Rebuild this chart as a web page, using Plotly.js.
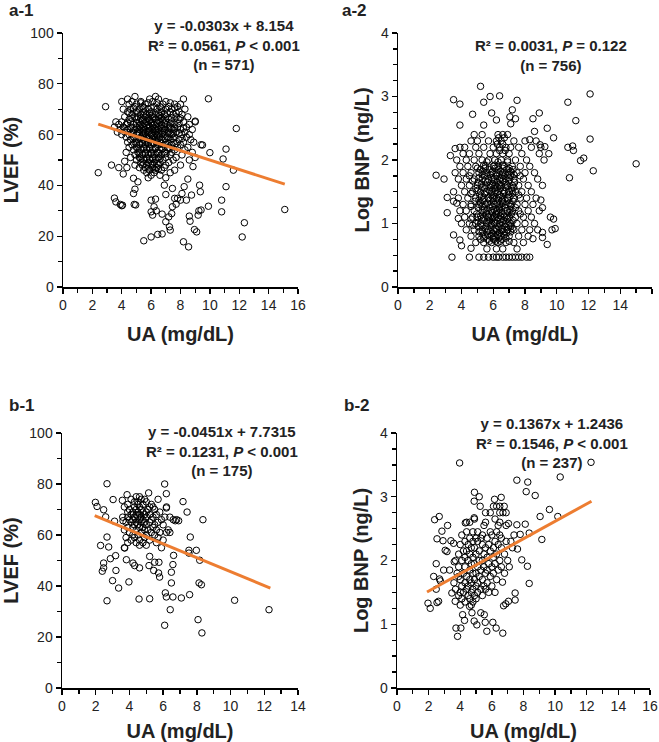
<!DOCTYPE html>
<html>
<head>
<meta charset="utf-8">
<script src="https://cdn.plot.ly/plotly-3.0.1.min.js"></script>
<style>html,body{margin:0;padding:0;background:#fff;}#chart{width:659px;height:742px;}</style>
</head>
<body>
<div id="chart"></div>
<script>
// ---------- DATA ----------
// Panel a-1: UA (mg/dL) vs LVEF (%)
const a1Points = [
  [2.4,45],[2.9,71],[3.3,48],[3.5,35],[3.6,33.5],[3.8,47],[3.9,32.5],[4.0,32],[4.05,32.2],[4.1,44.5],
  [4.2,49.5],[4.35,47],[4.8,36.8],[4.85,32.5],[4.95,32.3],[4.9,38.5],[4.8,42.8],[5.1,41.4],[5.5,18.2],[6.0,19.7],
  [6.0,34.2],[6.0,29.6],[6.1,28.3],[6.2,31.6],[6.3,34.6],[6.45,20.7],[6.75,20.9],[6.35,30],[6.75,28.7],[6.9,40.1],
  [7.0,36.4],[7.0,25.7],[7.2,27.6],[7.3,22.4],[7.25,23.7],[7.4,28.9],[7.45,31.6],[7.45,38.8],[7.6,34.9],[7.7,32.6],
  [7.8,34.9],[8.0,34.2],[8.1,36.8],[8.2,17.8],[8.25,39.5],[8.4,34.2],[8.55,15.8],[8.5,42.5],[8.6,27.9],[8.65,25.9],
  [8.75,36.2],[8.85,47.4],[8.95,22.6],[9.1,21.7],[9.2,28.3],[9.25,30],[9.3,40.1],[9.35,37.5],[9.4,30.3],[9.5,55.9],
  [9.9,31.8],[10.0,52.9],[10.8,29.6],[10.8,34.2],[10.9,50.4],[11.1,54.3],[11.1,39.5],[11.6,46],[11.8,62.4],[12.2,19.7],
  [12.35,25.3],[15.1,30.5],[9.9,74.1],[9.0,65.3],
  [4.9,75],[6.3,75],
  [4.4,74],[5.9,74],[6.5,74],[8.2,74],
  [4.0,73],[4.7,73],[5.3,73],[6.1,73],[7.0,73],
  [4.5,72],[5.0,72],[5.6,72],[6.8,72],[7.6,72],[8.0,72],
  [4.9,71],[5.4,71],[6.2,71],[6.6,71],[7.2,71],[7.8,71],
  [4.1,70],[4.6,70],[5.2,70],[5.8,70],[6.4,70],[7.0,70],[7.4,70],[8.3,70],
  [4.4,69],[5.0,69],[5.5,69],[6.0,69],[6.7,69],[7.3,69],[7.9,69],
  [4.7,68],[5.3,68],[5.7,68],[6.3,68],[6.9,68],[7.5,68],[8.1,68],
  [4.2,67],[4.9,67],[5.1,67],[5.6,67],[6.1,67],[6.5,67],[7.0,67],[7.7,67],[8.5,67],
  [4.5,66],[5.0,66],[5.4,66],[5.9,66],[6.3,66],[6.8,66],[7.2,66],[7.9,66],
  [3.6,65],[4.0,65],[4.6,65],[5.2,65],[5.7,65],[6.0,65],[6.6,65],[7.4,65],[8.2,65],[9.0,65],
  [3.8,64],[4.3,64],[4.8,64],[5.3,64],[5.8,64],[6.2,64],[6.7,64],[7.1,64],[7.6,64],[8.6,64],
  [3.5,63],[4.1,63],[4.6,63],[5.0,63],[5.5,63],[5.9,63],[6.4,63],[6.9,63],[7.3,63],[7.8,63],[8.4,63],
  [3.9,62],[4.4,62],[4.9,62],[5.2,62],[5.6,62],[6.1,62],[6.5,62],[7.0,62],[7.5,62],[8.0,62],[8.8,62],
  [3.7,61],[4.2,61],[4.7,61],[5.1,61],[5.4,61],[5.8,61],[6.3,61],[6.8,61],[7.2,61],[7.7,61],[8.3,61],
  [4.0,60],[4.5,60],[5.0,60],[5.5,60],[6.0,60],[6.4,60],[6.9,60],[7.4,60],[8.1,60],[8.6,60],
  [4.3,59],[4.8,59],[5.3,59],[5.7,59],[6.2,59],[6.6,59],[7.1,59],[7.6,59],[8.4,59],
  [4.6,58],[5.1,58],[5.5,58],[5.9,58],[6.4,58],[6.8,58],[7.3,58],[7.9,58],[8.7,58],
  [4.4,57],[4.9,57],[5.4,57],[5.8,57],[6.1,57],[6.6,57],[7.0,57],[7.5,57],[8.2,57],[8.9,57],
  [4.7,56],[5.2,56],[5.6,56],[6.0,56],[6.5,56],[6.9,56],[7.4,56],[8.0,56],[9.4,56],
  [4.5,55],[5.0,55],[5.5,55],[5.9,55],[6.3,55],[6.7,55],[7.2,55],[7.8,55],[8.5,55],
  [4.8,54],[5.3,54],[5.7,54],[6.1,54],[6.6,54],[7.1,54],[7.6,54],[8.3,54],
  [4.3,53],[5.1,53],[5.6,53],[6.0,53],[6.4,53],[6.9,53],[7.4,53],[8.8,53],
  [4.9,52],[5.4,52],[5.8,52],[6.2,52],[6.7,52],[7.3,52],[8.1,52],
  [4.6,51],[5.2,51],[5.7,51],[6.1,51],[6.5,51],[7.0,51],[7.7,51],[9.0,51],
  [5.0,50],[5.5,50],[5.9,50],[6.3,50],[6.8,50],[7.5,50],[8.6,50],
  [5.3,49],[5.8,49],[6.2,49],[6.6,49],[7.2,49],
  [4.9,48],[5.4,48],[5.7,48],[6.0,48],[6.5,48],[7.0,48],[8.0,48],
  [5.2,47],[5.6,47],[6.1,47],[6.4,47],[6.9,47],
  [5.5,46],[5.9,46],[6.3,46],[6.7,46],[7.6,46],
  [5.7,45],[6.2,45],[7.3,45],
  [6.0,44],[6.6,44],[5.8,43],[7.0,43],
  [5.3,72.5],[5.8,72.5],[6.4,72.5],[7.3,72.5],
  [4.8,70.5],[5.5,70.5],[6.0,70.5],[6.7,70.5],[7.6,70.5],
  [4.5,68.5],[5.1,68.5],[5.9,68.5],[6.5,68.5],[7.1,68.5],[7.7,68.5],
  [4.7,66.5],[5.3,66.5],[5.8,66.5],[6.2,66.5],[6.7,66.5],[7.4,66.5],[8.0,66.5],
  [4.4,64.5],[5.0,64.5],[5.5,64.5],[6.0,64.5],[6.4,64.5],[6.9,64.5],[7.3,64.5],[7.9,64.5],
  [4.2,62.5],[4.7,62.5],[5.3,62.5],[5.8,62.5],[6.2,62.5],[6.7,62.5],[7.2,62.5],[7.6,62.5],[8.2,62.5],
  [4.8,60.5],[5.2,60.5],[5.6,60.5],[6.1,60.5],[6.6,60.5],[7.1,60.5],[7.5,60.5],[7.9,60.5],
  [4.9,58.5],[5.3,58.5],[5.7,58.5],[6.1,58.5],[6.5,58.5],[7.0,58.5],[7.5,58.5],[8.1,58.5],
  [5.0,56.5],[5.4,56.5],[5.8,56.5],[6.2,56.5],[6.7,56.5],[7.2,56.5],[7.7,56.5],
  [5.1,54.5],[5.5,54.5],[5.9,54.5],[6.3,54.5],[6.8,54.5],[7.3,54.5],
  [5.2,52.5],[5.6,52.5],[6.0,52.5],[6.5,52.5],[7.0,52.5],
  [5.3,50.5],[5.7,50.5],[6.1,50.5],[6.6,50.5],
  [5.5,48.5],[6.1,48.5],[6.4,48.5],
  [5.8,46.5],[6.2,46.5],[6.5,46.5],
  [5.5,67.5],[6.0,67.5],[6.6,67.5],
  [5.4,65.5],[5.9,65.5],[6.5,65.5],[7.0,65.5],
  [5.2,63.5],[5.7,63.5],[6.1,63.5],[6.6,63.5],
  [5.5,61.5],[5.9,61.5],[6.4,61.5],[6.9,61.5],
  [5.4,59.5],[5.9,59.5],[6.4,59.5],
  [5.6,57.5],[6.3,57.5]
];
const a1TrendX = [2.4, 15.1];
const a1TrendY = [64.1, 40.5];

// Panel a-2: UA (mg/dL) vs Log BNP (ng/L)
const a2Points = [
  [2.4,1.76],[2.9,1.70],[3.1,1.41],[3.1,1.17],[3.3,2.07],[3.5,2.95],[3.9,2.88],[3.9,2.55],[3.6,2.18],[3.4,0.47],
  [3.5,0.82],[3.5,1.35],[3.7,1.32],[3.8,1.08],[3.9,0.74],[4.0,0.65],[4.7,2.72],[4.6,0.61],[5.2,3.16],[5.4,2.91],
  [5.8,3.0],[6.4,3.01],[5.9,2.74],[5.4,2.55],[6.2,2.63],[7.05,2.68],[7.2,2.79],[7.5,2.94],[7.4,2.65],[7.1,2.57],
  [8.5,2.65],[8.9,2.74],[9.4,2.5],[9.8,2.35],[8.6,2.45],[8.95,2.24],[8.3,2.32],[9.25,2.21],[9.5,2.1],[9.6,1.1],
  [9.8,1.07],[9.7,0.9],[9.9,0.92],[10.7,2.91],[11.2,2.62],[12.1,3.04],[10.7,2.2],[11.0,2.22],[11.05,2.15],[11.5,1.99],
  [11.7,2.03],[12.1,2.33],[12.3,1.83],[10.8,1.72],[15.0,1.94],[9.0,1.37],[9.1,1.25],[9.1,0.78],[9.4,0.67],[9.1,0.86],
  [8.5,0.76],
  [4.5,0.47],[5.1,0.47],[5.4,0.47],[5.7,0.47],[6.0,0.47],[6.2,0.47],[6.35,0.47],[6.6,0.47],[6.8,0.47],[7.0,0.47],
  [7.2,0.47],[7.4,0.47],[7.6,0.47],[7.8,0.47],[8.1,0.47],[8.3,0.47],
  [4.8,2.4],[5.3,2.4],[6.3,2.4],[6.6,2.4],[6.9,2.4],
  [4.6,2.3],[5.0,2.3],[5.7,2.3],[6.2,2.3],[6.5,2.3],[7.3,2.3],[8.0,2.3],[8.7,2.3],
  [3.9,2.2],[4.2,2.2],[4.9,2.2],[5.4,2.2],[6.0,2.2],[6.4,2.2],[6.8,2.2],[7.1,2.2],[7.6,2.2],[8.4,2.2],[9.0,2.2],
  [4.1,2.1],[4.5,2.1],[5.1,2.1],[5.8,2.1],[6.2,2.1],[6.6,2.1],[7.0,2.1],[7.8,2.1],[8.9,2.1],
  [3.7,2.0],[4.3,2.0],[4.8,2.0],[5.3,2.0],[5.7,2.0],[6.1,2.0],[6.5,2.0],[6.9,2.0],[7.4,2.0],[8.1,2.0],[9.2,2.0],
  [3.9,1.9],[4.4,1.9],[4.9,1.9],[5.5,1.9],[6.0,1.9],[6.3,1.9],[6.7,1.9],[7.2,1.9],[7.7,1.9],[8.3,1.9],
  [3.6,1.8],[4.1,1.8],[4.6,1.8],[5.1,1.8],[5.6,1.8],[5.9,1.8],[6.2,1.8],[6.6,1.8],[7.0,1.8],[7.5,1.8],[8.0,1.8],[8.6,1.8],
  [3.8,1.7],[4.3,1.7],[4.8,1.7],[5.3,1.7],[5.7,1.7],[6.0,1.7],[6.4,1.7],[6.8,1.7],[7.3,1.7],[7.9,1.7],[8.8,1.7],
  [4.0,1.6],[4.5,1.6],[5.0,1.6],[5.5,1.6],[5.8,1.6],[6.1,1.6],[6.5,1.6],[6.9,1.6],[7.2,1.6],[7.6,1.6],[8.2,1.6],[9.1,1.6],
  [3.5,1.5],[4.2,1.5],[4.7,1.5],[5.2,1.5],[5.6,1.5],[5.9,1.5],[6.3,1.5],[6.7,1.5],[7.0,1.5],[7.4,1.5],[7.8,1.5],[8.4,1.5],
  [3.8,1.4],[4.4,1.4],[4.9,1.4],[5.4,1.4],[5.7,1.4],[6.0,1.4],[6.2,1.4],[6.6,1.4],[6.9,1.4],[7.3,1.4],[7.7,1.4],[8.1,1.4],[8.7,1.4],
  [4.1,1.3],[4.6,1.3],[5.1,1.3],[5.5,1.3],[5.8,1.3],[6.1,1.3],[6.4,1.3],[6.8,1.3],[7.1,1.3],[7.5,1.3],[8.0,1.3],[8.5,1.3],
  [3.9,1.2],[4.3,1.2],[4.8,1.2],[5.3,1.2],[5.6,1.2],[5.9,1.2],[6.2,1.2],[6.5,1.2],[6.9,1.2],[7.2,1.2],[7.6,1.2],[8.2,1.2],[8.9,1.2],
  [4.2,1.1],[4.7,1.1],[5.0,1.1],[5.4,1.1],[5.7,1.1],[6.0,1.1],[6.3,1.1],[6.7,1.1],[7.0,1.1],[7.4,1.1],[7.9,1.1],[8.4,1.1],
  [4.0,1.0],[4.5,1.0],[4.9,1.0],[5.2,1.0],[5.6,1.0],[5.9,1.0],[6.1,1.0],[6.4,1.0],[6.8,1.0],[7.1,1.0],[7.5,1.0],[8.0,1.0],[8.6,1.0],
  [4.3,0.9],[4.8,0.9],[5.3,0.9],[5.7,0.9],[6.0,0.9],[6.2,0.9],[6.6,0.9],[6.9,0.9],[7.3,0.9],[7.8,0.9],[8.3,0.9],[8.8,0.9],
  [4.6,0.8],[5.1,0.8],[5.5,0.8],[5.8,0.8],[6.1,0.8],[6.5,0.8],[7.0,0.8],[7.6,0.8],[8.2,0.8],
  [4.9,0.7],[5.4,0.7],[5.9,0.7],[6.3,0.7],[6.8,0.7],[7.3,0.7],[7.9,0.7],
  [5.6,0.6],[6.2,0.6],[6.6,0.6],[7.5,0.6],
  [5.2,1.85],[5.75,1.85],[6.35,1.85],[6.85,1.85],[7.25,1.85],
  [4.5,1.75],[5.45,1.75],[6.2,1.75],[6.6,1.75],[7.1,1.75],[7.7,1.75],
  [5.05,1.65],[5.65,1.65],[6.25,1.65],[6.75,1.65],[7.35,1.65],
  [4.9,1.55],[5.45,1.55],[6.05,1.55],[6.45,1.55],[7.15,1.55],
  [5.15,1.45],[5.85,1.45],[6.4,1.45],[6.95,1.45],[7.6,1.45],
  [4.85,1.35],[5.35,1.35],[6.0,1.35],[6.55,1.35],[7.25,1.35],
  [5.05,1.25],[5.75,1.25],[6.35,1.25],[6.75,1.25],[7.4,1.25],
  [4.95,1.15],[5.55,1.15],[6.15,1.15],[6.55,1.15],[7.15,1.15],[7.7,1.15],
  [5.35,1.05],[5.8,1.05],[6.25,1.05],[6.65,1.05],[7.25,1.05],
  [5.05,0.95],[5.55,0.95],[6.35,0.95],[6.75,0.95],[7.1,0.95],
  [5.3,0.85],[5.95,0.85],[6.4,0.85],[6.85,0.85],
  [5.2,0.75],[5.65,0.75],[6.05,0.75],[6.55,0.75],
  [5.4,1.92],[6.1,1.92],[6.6,1.92],
  [5.35,1.82],[5.95,1.82],[6.45,1.82],[7.1,1.82],
  [5.1,1.72],[5.9,1.72],[6.5,1.72],[7.0,1.72],
  [5.25,1.62],[5.95,1.62],[6.35,1.62],[6.8,1.62],
  [5.0,1.52],[5.75,1.52],[6.15,1.52],[6.6,1.52],[7.2,1.52],
  [5.25,1.42],[5.95,1.42],[6.45,1.42],[7.05,1.42],
  [5.2,1.32],[5.65,1.32],[6.25,1.32],[6.6,1.32],[7.0,1.32],
  [5.45,1.22],[6.05,1.22],[6.4,1.22],[7.05,1.22],
  [5.2,1.12],[5.85,1.12],[6.45,1.12],[6.85,1.12],
  [5.05,1.02],[5.75,1.02],[6.05,1.02],[6.55,1.02],[7.0,1.02],
  [5.5,0.92],[6.15,0.92],[6.5,0.92],[7.2,0.92],
  [5.65,0.82],[6.25,0.82],[6.7,0.82],
  [5.75,0.72],[6.15,0.72],[6.45,0.72],[7.0,0.72],
  [6.35,2.35],[6.7,2.35],[6.25,2.25],[6.6,2.25],[6.4,2.15],[6.75,2.15],
  [5.6,1.97],[6.3,1.97],[6.9,1.97],
  [5.0,1.87],[5.5,1.87],[6.1,1.87],[6.6,1.87],[7.0,1.87],
  [5.3,1.77],[5.8,1.77],[6.4,1.77],[6.9,1.77],[7.3,1.77],
  [4.7,1.67],[5.5,1.67],[6.1,1.67],[6.6,1.67],[7.0,1.67],
  [5.3,1.57],[5.8,1.57],[6.25,1.57],[6.75,1.57],[7.3,1.57],
  [4.6,1.47],[5.45,1.47],[6.1,1.47],[6.65,1.47],[7.2,1.47],
  [5.1,1.37],[5.8,1.37],[6.35,1.37],[6.9,1.37],
  [4.6,1.27],[5.3,1.27],[5.95,1.27],[6.55,1.27],[7.1,1.27],
  [5.4,1.17],[5.95,1.17],[6.35,1.17],[7.0,1.17],
  [4.6,1.07],[5.25,1.07],[5.95,1.07],[6.45,1.07],[6.9,1.07],
  [4.7,0.97],[5.3,0.97],[5.85,0.97],[6.55,0.97],[7.0,0.97],
  [5.1,0.87],[5.6,0.87],[6.15,0.87],[6.65,0.87],[7.1,0.87],
  [5.4,0.77],[6.0,0.77],[6.35,0.77],[6.8,0.77]
];

// Panel b-1: UA (mg/dL) vs LVEF (%)
const b1Points = [
  [1.98,72.8],[2.08,71.2],[2.67,80.1],[2.47,69.9],[2.59,67.1],[2.29,55.9],[2.47,49.0],[2.39,45.8],[2.47,47.1],[2.67,59.2],
  [2.77,55.3],[2.67,34.2],[2.87,50.7],[3.03,73.9],[3.0,42.1],[3.12,65.4],[3.18,51.9],[3.2,46.1],[3.36,39.2],[3.58,73.6],
  [3.62,65.6],[3.72,54.9],[3.82,50.3],[3.86,75.8],[3.97,41.6],[4.21,49.0],[4.31,48.0],[4.6,47.1],[4.57,34.9],[5.14,76.5],
  [5.2,35.0],[5.2,51.6],[5.5,49.3],[5.16,48.0],[5.44,46.1],[5.73,45.1],[5.79,43.5],[5.75,49.3],[6.09,80.0],[6.19,76.2],
  [6.19,70.6],[6.13,37.3],[6.19,35.7],[6.09,24.6],[6.42,30.7],[6.49,41.2],[6.49,45.4],[6.58,48.4],[6.62,52.0],[6.58,35.7],
  [6.72,65.6],[6.92,65.6],[7.08,35.3],[7.18,73.1],[7.42,69.0],[7.57,36.6],[7.61,59.2],[7.53,54.0],[7.53,52.9],[7.97,54.0],
  [8.07,26.8],[8.17,50.1],[8.13,41.2],[8.27,40.5],[8.3,21.6],[8.36,66.0],[10.24,34.4],[12.28,30.7],
  [4.4,75],[4.6,75],
  [4.1,74],[4.7,74],[4.9,74],[5.7,74],
  [4.3,73],[4.5,73],[5.0,73],
  [3.9,72],[4.5,72],[4.8,72],[5.3,72],
  [3.7,71],[4.3,71],[4.6,71],[5.2,71],[5.4,71],[6.2,71],
  [4.0,70],[4.4,70],[4.7,70],[5.1,70],[5.5,70],
  [3.9,69],[4.2,69],[4.5,69],[4.8,69],[5.0,69],[5.8,69],
  [4.1,68],[4.4,68],[4.6,68],[4.9,68],[5.2,68],[5.6,68],
  [3.6,67],[3.9,67],[4.3,67],[4.5,67],[4.7,67],[5.0,67],[5.4,67],[6.1,67],[6.4,67],
  [4.0,66],[4.2,66],[4.6,66],[4.8,66],[5.3,66],[5.9,66],[6.6,66],[6.8,66],
  [3.8,65],[4.1,65],[4.4,65],[4.7,65],[4.9,65],[5.2,65],[5.7,65],
  [4.3,64],[4.5,64],[5.0,64],[5.5,64],[6.0,64],
  [3.9,63],[4.2,63],[4.6,63],[4.8,63],[5.4,63],
  [3.7,62],[4.4,62],[4.9,62],[5.1,62],[5.6,62],[6.3,62],
  [4.0,61],[4.7,61],[5.3,61],[5.8,61],[6.2,61],[6.4,61],
  [4.2,60],[4.5,60],[5.0,60],[5.5,60],
  [3.8,59],[4.3,59],[4.9,59],[5.7,59],
  [4.1,58],[4.6,58],[5.2,58],[6.0,58],
  [3.9,57],[4.4,57],[4.8,57],[5.6,57],
  [4.6,56],[5.0,56],
  [3.7,55],[5.9,55]
];
const b1TrendX = [1.94, 12.36];
const b1TrendY = [67.6, 39.2];

// Panel b-2: UA (mg/dL) vs Log BNP (ng/L)
const b2Points = [
  [1.96,1.33],[2.1,1.25],[2.38,2.64],[2.67,2.69],[2.32,1.75],[2.48,1.95],[2.53,2.34],[2.48,1.55],[2.53,1.34],[2.63,1.36],
  [2.69,1.71],[2.74,1.68],[2.84,2.46],[2.91,2.31],[2.95,1.85],[3.05,2.16],[3.16,2.14],[3.2,2.55],[3.33,1.85],[3.41,2.31],
  [3.47,1.49],[3.58,2.27],[3.62,1.98],[3.68,1.36],[3.73,0.94],[3.83,0.81],[3.96,3.53],[3.89,1.75],[4.04,0.94],[4.15,1.15],
  [4.27,1.06],[4.32,2.59],[4.59,1.28],[4.74,1.18],[4.88,2.93],[4.9,3.07],[4.88,2.67],[4.88,1.05],[5.05,0.99],[5.2,3.0],
  [5.26,2.85],[5.3,1.18],[5.52,1.15],[5.58,1.03],[5.68,0.89],[6.06,1.03],[6.27,0.94],[6.69,0.86],[6.17,2.96],[6.59,2.99],
  [6.78,2.85],[6.9,2.75],[7.05,2.58],[6.74,1.29],[6.88,1.32],[7.05,1.36],[6.67,1.66],[7.47,1.49],[7.47,1.38],[7.58,3.26],
  [7.58,2.56],[7.62,2.18],[7.79,2.41],[7.89,2.01],[8.11,2.57],[8.17,3.08],[8.27,3.23],[8.25,1.91],[8.36,1.64],[8.36,2.43],
  [8.74,3.02],[9.05,2.69],[9.16,2.33],[9.64,2.8],[10.17,2.69],[10.32,3.31],[12.27,3.54],
  [6.1,2.85],[6.3,2.85],[6.5,2.85],
  [5.6,2.75],[5.9,2.75],[6.5,2.75],[6.7,2.75],
  [4.9,2.65],[6.2,2.65],
  [4.4,2.6],[4.6,2.6],[5.6,2.6],[6.5,2.6],
  [5.5,2.55],[6.4,2.55],[6.9,2.55],
  [4.4,2.45],[4.8,2.45],[5.1,2.45],[5.9,2.45],[6.3,2.45],
  [4.1,2.4],[5.4,2.4],[6.0,2.4],[6.5,2.4],[7.4,2.4],
  [4.6,2.35],[5.0,2.35],[5.3,2.35],[5.7,2.35],[6.6,2.35],
  [4.3,2.3],[4.8,2.3],[5.1,2.3],[6.2,2.3],[6.9,2.3],[7.2,2.3],
  [4.0,2.25],[4.5,2.25],[5.4,2.25],[5.8,2.25],[6.4,2.25],
  [4.7,2.2],[4.9,2.2],[5.6,2.2],[6.1,2.2],[6.6,2.2],[7.3,2.2],
  [4.2,2.15],[4.4,2.15],[5.2,2.15],[5.9,2.15],
  [3.9,2.1],[4.6,2.1],[5.0,2.1],[5.5,2.1],[6.3,2.1],[6.8,2.1],
  [4.3,2.05],[4.8,2.05],[5.7,2.05],[6.1,2.05],
  [3.7,2.0],[4.1,2.0],[4.5,2.0],[5.2,2.0],[5.4,2.0],[6.5,2.0],[7.0,2.0],
  [4.7,1.95],[4.9,1.95],[5.8,1.95],[6.2,1.95],
  [3.9,1.9],[4.3,1.9],[5.1,1.9],[5.5,1.9],[6.0,1.9],[6.6,1.9],[7.1,1.9],
  [4.6,1.85],[5.3,1.85],[5.7,1.85],[6.4,1.85],
  [3.8,1.8],[4.2,1.8],[4.8,1.8],[5.0,1.8],[5.6,1.8],[6.1,1.8],[6.8,1.8],
  [4.4,1.75],[5.2,1.75],[5.9,1.75],
  [4.0,1.7],[4.6,1.7],[4.9,1.7],[5.4,1.7],[6.3,1.7],
  [3.6,1.65],[4.3,1.65],[4.7,1.65],[5.1,1.65],[5.7,1.65],
  [4.1,1.6],[4.5,1.6],[5.0,1.6],[5.5,1.6],[6.0,1.6],
  [3.7,1.55],[4.4,1.55],[4.8,1.55],[5.3,1.55],[5.6,1.55],
  [4.0,1.5],[4.2,1.5],[4.7,1.5],[5.1,1.5],[5.8,1.5],[6.2,1.5],
  [3.9,1.45],[4.5,1.45],[4.9,1.45],[5.4,1.45],
  [4.1,1.4],[4.6,1.4],[5.0,1.4],
  [4.3,1.35],[4.8,1.35],
  [4.0,1.3],[4.7,1.3]
];
const b2TrendX = [1.9, 12.3];
const b2TrendY = [1.506, 2.93];

// Texts
const panelLabels = ['a-1', 'a-2', 'b-1', 'b-2'];
const xTitle = 'UA (mg/dL)';
const yTitles = ['LVEF (%)', 'Log BNP (ng/L)', 'LVEF (%)', 'Log BNP (ng/L)'];
const statTexts = [
  'y = -0.0303x + 8.154<br>R² = 0.0561, <i>P</i> &lt; 0.001<br>(n = 571)',
  'R² = 0.0031, <i>P</i> = 0.122<br>(n = 756)',
  'y = -0.0451x + 7.7315<br>R² = 0.1231, <i>P</i> &lt; 0.001<br>(n = 175)',
  'y = 0.1367x + 1.2436<br>R² = 0.1546, <i>P</i> &lt; 0.001<br>(n = 237)'
];

// ---------- BUILD ----------
const W = 659, H = 742;
const FONT = 'Liberation Sans, Arial, Helvetica, sans-serif';
const ORANGE = '#ED7D31';

function xs(p){ return p.map(d => d[0]); }
function ys(p){ return p.map(d => d[1]); }

function scatter(points, ax){
  return {type:'scatter', mode:'markers', x:xs(points), y:ys(points),
    xaxis:ax[0], yaxis:ax[1], hoverinfo:'skip', showlegend:false,
    marker:{symbol:'circle-open', size:6.5, color:'#000', line:{width:1, color:'#000'}}};
}
function trend(tx, ty, ax){
  return {type:'scatter', mode:'lines', x:tx, y:ty, xaxis:ax[0], yaxis:ax[1],
    hoverinfo:'skip', showlegend:false, line:{color:ORANGE, width:3}};
}

const data = [
  scatter(a1Points, ['x','y']), trend(a1TrendX, a1TrendY, ['x','y']),
  scatter(a2Points, ['x2','y2']),
  scatter(b1Points, ['x3','y3']), trend(b1TrendX, b1TrendY, ['x3','y3']),
  scatter(b2Points, ['x4','y4']), trend(b2TrendX, b2TrendY, ['x4','y4'])
];

function baseAxis(o){
  return Object.assign({
    showline:true, linecolor:'#000', linewidth:1.5, mirror:false,
    ticks:'outside', ticklen:5, tickwidth:1.3, tickcolor:'#000',
    showgrid:false, zeroline:false, fixedrange:true, automargin:false,
    tickfont:{family:FONT, size:14, color:'#222'}
  }, o);
}
function xAxis(domain, maxV, anchor){
  return baseAxis({domain:domain, range:[0,maxV], dtick:2, tick0:0, anchor:anchor,
    minor:{ticks:'outside', ticklen:4, tickwidth:1.3, tickcolor:'#000', dtick:1, showgrid:false},
    title:{text:'<b>'+xTitle+'</b>', font:{family:FONT, size:20, color:'#222'}, standoff:14}});
}
function yAxis(domain, maxV, major, minorStep, anchor, title){
  return baseAxis({domain:domain, range:[0,maxV], dtick:major, tick0:0, anchor:anchor,
    minor:{ticks:'outside', ticklen:4, tickwidth:1.3, tickcolor:'#000', dtick:minorStep, showgrid:false},
    title:{text:'<b>'+title+'</b>', font:{family:FONT, size:20, color:'#222'}, standoff:6}});
}
const px = v => v / W;
const py = v => 1 - v / H;

const topY = [py(287), py(33)];
const botY = [py(688), py(433)];

const annotations = [];
const labelPos = [[7,10],[340,10],[7,405],[342,405]];
panelLabels.forEach((t,i) => annotations.push({
  text:'<b>'+t+'</b>', xref:'paper', yref:'paper', x:px(labelPos[i][0]), y:py(labelPos[i][1]),
  xanchor:'left', yanchor:'middle', showarrow:false, font:{family:FONT, size:17, color:'#222'}
}));
const statPos = [[224,45],[551,55],[222,451],[552,443]];
statTexts.forEach((t,i) => annotations.push({
  text:'<b>'+t+'</b>', xref:'paper', yref:'paper', x:px(statPos[i][0]), y:py(statPos[i][1]),
  xanchor:'center', yanchor:'middle', align:'center', showarrow:false,
  font:{family:FONT, size:15, color:'#222'}
}));

const layout = {
  width:W, height:H, margin:{l:0, r:0, t:0, b:0},
  paper_bgcolor:'#fff', plot_bgcolor:'rgba(0,0,0,0)',
  font:{family:FONT, color:'#222'},
  showlegend:false,
  xaxis: xAxis([px(63), px(298)], 16, 'y'),
  yaxis: yAxis(topY, 100, 20, 10, 'x', yTitles[0]),
  xaxis2: xAxis([px(398), px(652)], 16, 'y2'),
  yaxis2: yAxis(topY, 4, 1, 0.25, 'x2', yTitles[1]),
  xaxis3: xAxis([px(62), px(298)], 14, 'y3'),
  yaxis3: yAxis(botY, 100, 20, 10, 'x3', yTitles[2]),
  xaxis4: xAxis([px(397), px(650)], 16, 'y4'),
  yaxis4: yAxis(botY, 4, 1, 0.25, 'x4', yTitles[3]),
  annotations: annotations
};

Plotly.newPlot('chart', data, layout, {displayModeBar:false, staticPlot:true});
</script>
</body>
</html>
